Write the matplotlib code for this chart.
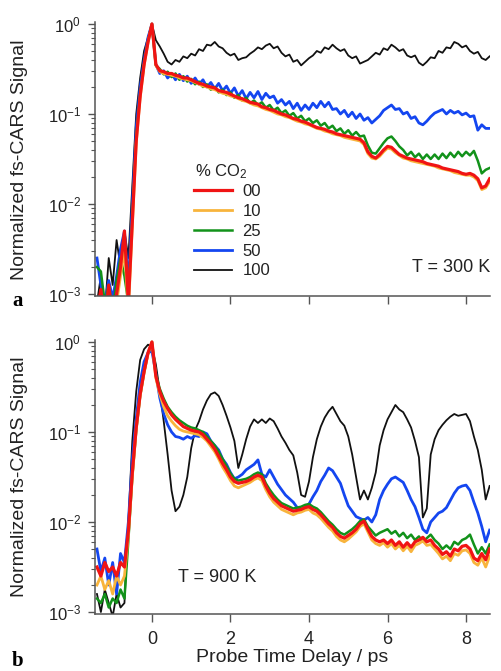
import matplotlib.pyplot as plt
import numpy as np
from matplotlib.ticker import NullFormatter

plt.rcParams["font.family"] = ["Liberation Sans", "DejaVu Sans"]
plt.rcParams["mathtext.fontset"] = "custom"
plt.rcParams["mathtext.rm"] = "Liberation Sans"
plt.rcParams["mathtext.it"] = "Liberation Sans:italic"
plt.rcParams["mathtext.bf"] = "Liberation Sans:bold"

# probe delay grid [ps], one sample every 0.1 ps
delay_ps = np.linspace(-1.4, 8.6, 101)

# log10 of normalized signal
# panel a, T = 300 K
a_co2_00 = [-3.2, -2.95, -3.3, -2.9, -3.25, -3.0, -2.7, -2.3, -3.1, -2.2,
            -1.3, -0.8, -0.45, -0.2, 0.0, -0.45, -0.52, -0.53, -0.55, -0.55,
            -0.57, -0.58, -0.6, -0.6, -0.62, -0.64, -0.66, -0.67, -0.69, -0.7,
            -0.71, -0.74, -0.75, -0.76, -0.78, -0.8, -0.82, -0.83, -0.85, -0.87,
            -0.88, -0.89, -0.92, -0.93, -0.95, -0.96, -0.98, -1.0, -1.01, -1.03,
            -1.05, -1.06, -1.08, -1.09, -1.11, -1.13, -1.15, -1.16, -1.17, -1.19,
            -1.2, -1.22, -1.23, -1.24, -1.25, -1.26, -1.27, -1.28, -1.32, -1.42,
            -1.47, -1.49, -1.45, -1.4, -1.36, -1.37, -1.41, -1.45, -1.47, -1.49,
            -1.5, -1.51, -1.52, -1.53, -1.55, -1.56, -1.57, -1.58, -1.6, -1.61,
            -1.62, -1.63, -1.64, -1.66, -1.67, -1.66, -1.68, -1.72, -1.82, -1.8,
            -1.72]
a_co2_10 = [-3.3, -3.1, -3.2, -3.0, -3.3, -3.1, -2.8, -2.5, -3.2, -2.25,
            -1.32, -0.82, -0.46, -0.21, 0.0, -0.46, -0.53, -0.55, -0.56, -0.57,
            -0.58, -0.6, -0.61, -0.62, -0.63, -0.65, -0.67, -0.69, -0.7, -0.72,
            -0.73, -0.75, -0.77, -0.78, -0.8, -0.81, -0.83, -0.85, -0.86, -0.88,
            -0.9, -0.91, -0.93, -0.95, -0.96, -0.98, -1.0, -1.01, -1.03, -1.04,
            -1.06, -1.08, -1.09, -1.11, -1.12, -1.14, -1.16, -1.17, -1.19, -1.2,
            -1.22, -1.23, -1.24, -1.26, -1.27, -1.28, -1.29, -1.3, -1.34, -1.44,
            -1.49, -1.5, -1.47, -1.42, -1.38, -1.39, -1.43, -1.46, -1.49, -1.5,
            -1.52, -1.53, -1.54, -1.55, -1.56, -1.57, -1.58, -1.6, -1.61, -1.62,
            -1.63, -1.65, -1.66, -1.67, -1.68, -1.68, -1.7, -1.74, -1.84, -1.82,
            -1.75]
a_co2_25 = [-2.7, -2.75, -3.1, -2.9, -3.2, -2.85, -2.6, -2.8, -3.1, -2.15,
            -1.25, -0.78, -0.44, -0.19, 0.0, -0.46, -0.5, -0.56, -0.53, -0.59,
            -0.55, -0.62, -0.58, -0.64, -0.61, -0.67, -0.64, -0.7, -0.67, -0.73,
            -0.7, -0.76, -0.73, -0.79, -0.76, -0.82, -0.79, -0.85, -0.82, -0.88,
            -0.85, -0.9, -0.87, -0.93, -0.9, -0.96, -0.93, -0.99, -0.96, -1.02,
            -0.99, -1.05, -1.02, -1.08, -1.05, -1.1, -1.07, -1.13, -1.1, -1.16,
            -1.13, -1.19, -1.16, -1.22, -1.18, -1.24, -1.2, -1.25, -1.24, -1.35,
            -1.43, -1.44, -1.38, -1.32, -1.27, -1.25, -1.3, -1.36, -1.4, -1.46,
            -1.42, -1.48, -1.44, -1.5, -1.45, -1.5, -1.45, -1.5, -1.44, -1.49,
            -1.43, -1.48, -1.42, -1.47, -1.42, -1.46, -1.41, -1.52, -1.66, -1.62,
            -1.6]
a_co2_50 = [-2.6, -2.9, -3.1, -2.85, -3.05, -2.8, -2.5, -2.3, -2.9, -2.0,
            -1.15, -0.7, -0.4, -0.15, 0.0, -0.45, -0.55, -0.52, -0.6, -0.55,
            -0.62, -0.56, -0.63, -0.58, -0.66, -0.6, -0.67, -0.62, -0.7, -0.65,
            -0.72, -0.66, -0.74, -0.69, -0.77, -0.71, -0.8, -0.74, -0.83, -0.76,
            -0.82, -0.75, -0.84, -0.77, -0.82, -0.8, -0.88, -0.84, -0.9, -0.86,
            -0.94, -0.88, -0.96, -0.9, -0.95, -0.88, -0.93, -0.86, -0.92, -0.87,
            -0.95, -0.94, -1.0, -0.96, -1.03, -0.98, -1.05, -1.0, -1.07, -1.04,
            -1.1, -1.06, -1.02, -0.96, -0.93, -0.9, -0.95, -0.94, -1.0, -0.98,
            -1.05, -1.03, -1.1, -1.12, -1.08, -1.03, -0.99, -0.97, -0.95, -1.0,
            -0.96, -0.99, -0.97, -1.01, -0.99, -1.03, -1.02, -1.18, -1.12, -1.16,
            -1.16]
a_co2_100 = [-3.1, -2.8, -3.2, -2.6, -2.9, -2.4, -2.7, -2.3, -2.6, -1.8,
             -1.0, -0.6, -0.3, -0.15, 0.0, -0.18, -0.25, -0.33, -0.42, -0.45,
             -0.4, -0.42, -0.36, -0.38, -0.33, -0.35, -0.28, -0.3, -0.23, -0.24,
             -0.2, -0.25, -0.27, -0.32, -0.35, -0.33, -0.4, -0.38, -0.37, -0.33,
             -0.3, -0.26, -0.28, -0.24, -0.22, -0.27, -0.25, -0.32, -0.36, -0.34,
             -0.42, -0.4, -0.46, -0.42, -0.38, -0.35, -0.3, -0.32, -0.26, -0.28,
             -0.23, -0.27, -0.3, -0.28, -0.35, -0.38, -0.36, -0.44, -0.42, -0.4,
             -0.36, -0.32, -0.34, -0.27, -0.29, -0.23, -0.26, -0.3, -0.28, -0.35,
             -0.37, -0.35, -0.43, -0.46, -0.42, -0.37, -0.38, -0.3, -0.32, -0.26,
             -0.27, -0.2, -0.22, -0.26, -0.24, -0.3, -0.33, -0.31, -0.38, -0.4,
             -0.36]

# panel b, T = 900 K
b_co2_00 = [-2.5, -2.6, -2.45, -2.55, -2.5, -2.6, -2.45, -2.5, -2.1, -1.45,
            -0.95, -0.58, -0.33, -0.12, 0.0, -0.38, -0.55, -0.66, -0.74, -0.81,
            -0.86, -0.9, -0.94, -0.96, -0.98, -0.99, -1.0, -1.03, -1.08, -1.13,
            -1.19, -1.27, -1.35, -1.42, -1.5, -1.55, -1.57, -1.56, -1.55, -1.53,
            -1.5, -1.48, -1.5, -1.6, -1.68, -1.74, -1.78, -1.82, -1.84, -1.86,
            -1.88, -1.87, -1.86, -1.84, -1.83, -1.86, -1.88, -1.92, -1.97, -2.02,
            -2.06, -2.12, -2.16, -2.18, -2.15, -2.12, -2.08, -2.02, -1.99, -2.08,
            -2.16, -2.2, -2.22, -2.2, -2.24, -2.2, -2.26, -2.22, -2.28, -2.23,
            -2.28, -2.22, -2.2, -2.17, -2.22, -2.2, -2.26, -2.3, -2.36, -2.33,
            -2.38, -2.3, -2.32, -2.27, -2.26, -2.3, -2.4, -2.43, -2.35, -2.42,
            -2.3]
b_co2_10 = [-2.7, -2.6, -2.75, -2.65, -2.8, -2.6, -2.7, -2.6, -2.15, -1.5,
            -0.97, -0.6, -0.34, -0.13, 0.0, -0.4, -0.58, -0.72, -0.82, -0.88,
            -0.93, -0.97, -0.99, -1.0, -1.01, -1.02, -1.03, -1.06, -1.1, -1.16,
            -1.22, -1.3, -1.39, -1.46, -1.54, -1.6, -1.62, -1.6, -1.58, -1.56,
            -1.53, -1.51, -1.54, -1.64, -1.72, -1.78, -1.82, -1.86, -1.88, -1.9,
            -1.92, -1.9, -1.89, -1.87, -1.86, -1.9, -1.92, -1.96, -2.01, -2.06,
            -2.1, -2.16, -2.2, -2.22, -2.19, -2.15, -2.11, -2.05, -2.02, -2.11,
            -2.2, -2.24, -2.26, -2.23, -2.28, -2.24, -2.3, -2.26, -2.32, -2.27,
            -2.33, -2.26, -2.24, -2.21, -2.26, -2.25, -2.3, -2.35, -2.41, -2.38,
            -2.43, -2.35, -2.37, -2.32, -2.31, -2.35, -2.45, -2.48, -2.4, -2.5,
            -2.38]
b_co2_25 = [-2.85, -2.9, -2.8, -2.95, -2.85, -2.9, -2.75, -2.85, -2.2, -1.5,
            -0.98, -0.6, -0.34, -0.13, 0.0, -0.36, -0.52, -0.63, -0.72, -0.78,
            -0.83, -0.87, -0.9, -0.93, -0.95, -0.96, -0.98, -1.0, -1.05, -1.1,
            -1.15, -1.22, -1.3, -1.38, -1.46, -1.52, -1.54, -1.53, -1.52, -1.5,
            -1.47, -1.45, -1.47, -1.57, -1.64, -1.7, -1.75, -1.79, -1.81, -1.83,
            -1.85, -1.84, -1.83, -1.81, -1.8, -1.83, -1.85, -1.89, -1.94, -1.99,
            -2.03, -2.08, -2.12, -2.14, -2.11, -2.08, -2.04, -1.99, -1.97, -2.05,
            -2.1, -2.15, -2.12, -2.1, -2.08, -2.13, -2.1, -2.16, -2.12, -2.18,
            -2.14, -2.2, -2.16, -2.22, -2.18, -2.14, -2.2, -2.24, -2.3, -2.26,
            -2.3, -2.22, -2.25, -2.2, -2.18, -2.14, -2.25, -2.35, -2.28, -2.35,
            -2.25]
b_co2_50 = [-2.3, -2.55, -2.4, -2.7, -2.45, -2.8, -2.35, -2.45, -2.0, -1.3,
            -0.85, -0.45, -0.22, -0.12, -0.1, -0.35, -0.62, -0.8, -0.92, -1.0,
            -1.05, -1.06, -1.08, -1.05, -1.07, -1.04, -1.05, -1.0, -1.02, -1.1,
            -1.15, -1.2, -1.3, -1.36, -1.45, -1.52, -1.5, -1.47, -1.42, -1.39,
            -1.36, -1.31, -1.47, -1.5, -1.42, -1.5, -1.58, -1.64, -1.7, -1.74,
            -1.78, -1.84, -1.87, -1.84, -1.8, -1.72, -1.65, -1.55, -1.48, -1.4,
            -1.43, -1.5, -1.57, -1.7, -1.82, -1.88, -1.94, -1.96, -1.98, -1.95,
            -2.0, -1.92, -1.75, -1.65, -1.58, -1.52, -1.5, -1.53, -1.56, -1.65,
            -1.75, -1.83, -1.95, -2.08, -2.12, -2.0, -1.95, -1.9, -1.88, -1.84,
            -1.76, -1.68, -1.62, -1.6, -1.59, -1.65, -1.78, -1.9, -2.05, -2.22,
            -2.09]
b_co2_100 = [-2.8, -3.0, -2.75, -2.9, -3.05, -2.8, -2.95, -2.9, -2.0, -1.1,
             -0.55, -0.2, -0.08, -0.03, -0.05, -0.25, -0.55, -0.88, -1.25, -1.65,
             -1.88, -1.83, -1.7, -1.5, -1.18, -0.98, -0.88, -0.75, -0.65, -0.58,
             -0.56, -0.6, -0.7, -0.82, -0.95, -1.1, -1.4, -1.25, -1.08, -0.94,
             -0.86, -0.9, -0.86, -0.9, -0.85, -0.88, -0.96, -1.05, -1.12, -1.2,
             -1.26, -1.45, -1.7, -1.72, -1.55, -1.28, -1.08, -0.94, -0.84, -0.77,
             -0.72, -0.8, -0.88, -0.93, -1.05, -1.25, -1.5, -1.75, -1.65, -1.75,
             -1.62, -1.45, -1.15, -0.98, -0.86, -0.78, -0.7, -0.75, -0.78, -0.86,
             -0.95, -1.1, -1.28, -1.95, -1.85, -1.25, -1.08, -0.98, -0.92, -0.87,
             -0.83, -0.8, -0.82, -0.81, -0.8, -0.88, -1.05, -1.2, -1.42, -1.75,
             -1.6]

labels = ["00", "10", "25", "50", "100"]
colors = ["#f01414", "#f8b43c", "#12921a", "#1446f0", "#111111"]
widths = [2.3, 2.0, 1.8, 2.0, 1.3]
draw_order = [4, 3, 2, 1, 0]

panel_a = [a_co2_00, a_co2_10, a_co2_25, a_co2_50, a_co2_100]
panel_b = [b_co2_00, b_co2_10, b_co2_25, b_co2_50, b_co2_100]

W, H = 501, 671
fig = plt.figure(figsize=(W / 100, H / 100), dpi=100)
ax_a = fig.add_axes([95 / W, 1 - 296 / H, 395 / W, 274 / H])
ax_b = fig.add_axes([95 / W, 1 - 614 / H, 395 / W, 274 / H])

axis_col = "#555555"
text_col = "#222222"

handles = {}
for ax, panel in [(ax_a, panel_a), (ax_b, panel_b)]:
    for i in draw_order:
        (ln,) = ax.plot(delay_ps, 10 ** np.array(panel[i]), color=colors[i],
                        lw=widths[i], solid_joinstyle="round")
        handles[i] = ln
    ax.set_yscale("log")
    ax.set_ylim(10 ** -3.022, 10 ** 0.022)
    ax.set_xlim(-1.45, 8.61)
    ax.set_xticks([0, 2, 4, 6, 8])
    ax.yaxis.set_minor_formatter(NullFormatter())
    for s in ["top", "right"]:
        ax.spines[s].set_visible(False)
    for s in ["left", "bottom"]:
        ax.spines[s].set_color(axis_col)
        ax.spines[s].set_linewidth(1.1)
    ax.tick_params(axis="y", which="major", direction="out", length=5, width=1,
                   color=axis_col, labelsize=12, labelcolor=text_col, pad=5)
    ax.tick_params(axis="y", which="minor", direction="out", length=3, width=0.8,
                   color=axis_col)
    ax.tick_params(axis="x", which="major", direction="out", length=6, width=1,
                   color=axis_col, labelsize=13, labelcolor=text_col, pad=6)

ax_a.tick_params(axis="x", labelbottom=False)

# legend title is placed on its own, entries below it
fig.text(195 / W, 1 - 172 / H, "% CO$_2$", ha="left", va="center",
         fontsize=12, color=text_col)
leg = ax_a.legend([handles[i] for i in range(5)], labels,
                  frameon=False, loc="upper left",
                  bbox_to_anchor=(194 / W, 1 - 184 / H),
                  bbox_transform=fig.transFigure, fontsize=12,
                  handlelength=2.3, handletextpad=0.6, labelspacing=0.29,
                  borderpad=0, borderaxespad=0)
for t in leg.get_texts():
    t.set_color(text_col)

fig.text(490 / W, 1 - 268 / H, "T = 300 K", ha="right", va="center",
         fontsize=13, color=text_col)
fig.text(178 / W, 1 - 578 / H, "T = 900 K", ha="left", va="center",
         fontsize=13, color=text_col)

for yc in [160, 477]:
    fig.text(20 / W, 1 - yc / H, "Normalized fs-CARS Signal", rotation=90,
             ha="center", va="center", fontsize=14, color=text_col)
fig.text(292 / W, 1 - 658 / H, "Probe Time Delay / ps", ha="center",
         va="center", fontsize=14, color=text_col)

fig.text(12 / W, 1 - 306 / H, "a", family="Liberation Serif", weight="bold",
         fontsize=15, ha="left", va="baseline")
fig.text(12 / W, 1 - 666 / H, "b", family="Liberation Serif", weight="bold",
         fontsize=15, ha="left", va="baseline")

fig.savefig("out.png", dpi=100)
